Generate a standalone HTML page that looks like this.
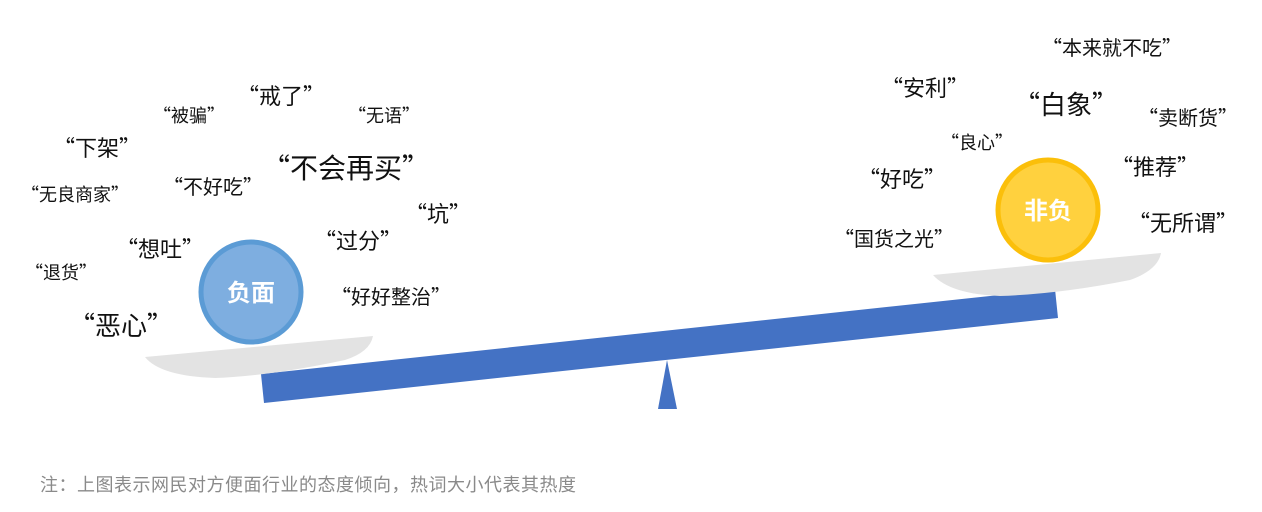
<!DOCTYPE html>
<html><head><meta charset="utf-8"><style>
html,body{margin:0;padding:0;background:#fff;}
#c{position:relative;width:1262px;height:512px;overflow:hidden;font-family:"Noto Sans CJK SC","Liberation Sans",sans-serif;color:#111;}
.t{position:absolute;transform:translate(-50%,-50%);white-space:nowrap;line-height:1;}
svg{position:absolute;left:0;top:0;}
.note{position:absolute;left:40px;top:474px;font-size:18px;letter-spacing:0.5px;color:#8a8a8a;white-space:nowrap;line-height:20px;}
</style></head><body><div id="c">
<svg width="1262" height="512">
<polygon points="261,374 1055,289 1058,318 264,403" fill="#4472c4"/>
<polygon points="667,360 658,409 677,409" fill="#4472c4"/>
<path d="M145,357 L373,336 Q370,352 345,360 Q270,376 215,378 Q160,376 145,357 Z" fill="#e3e3e3"/>
<path d="M933,275 L1161,253 Q1158,270 1130,280 Q1060,294 1000,296 Q950,294 933,275 Z" fill="#e3e3e3"/>
<circle cx="251" cy="292" r="50" fill="#7eaee0" stroke="#5b9bd5" stroke-width="5"/>
<circle cx="1048" cy="210" r="50" fill="#ffd13e" stroke="#fbbf0a" stroke-width="5"/>
<text x="251" y="301" font-size="24" font-weight="bold" fill="#fff" text-anchor="middle" font-family="Noto Sans CJK SC,sans-serif">负面</text>
<text x="1048" y="219" font-size="24" font-weight="bold" fill="#fff" text-anchor="middle" font-family="Noto Sans CJK SC,sans-serif">非负</text>
</svg>
<div class="t" style="left:1112px;top:47px;font-size:20px">“本来就不吃”</div>
<div class="t" style="left:925px;top:87px;font-size:22px">“安利”</div>
<div class="t" style="left:1066px;top:104px;font-size:26px">“白象”</div>
<div class="t" style="left:1188px;top:117px;font-size:20px">“卖断货”</div>
<div class="t" style="left:977px;top:142px;font-size:18px">“良心”</div>
<div class="t" style="left:1155px;top:166px;font-size:22px">“推荐”</div>
<div class="t" style="left:902px;top:178px;font-size:22px">“好吃”</div>
<div class="t" style="left:1183px;top:222px;font-size:22px">“无所谓”</div>
<div class="t" style="left:894px;top:238px;font-size:20px">“国货之光”</div>
<div class="t" style="left:281px;top:95px;font-size:22px">“戒了”</div>
<div class="t" style="left:189px;top:115px;font-size:18px">“被骗”</div>
<div class="t" style="left:384px;top:115px;font-size:18px">“无语”</div>
<div class="t" style="left:97px;top:147px;font-size:22px">“下架”</div>
<div class="t" style="left:346px;top:167px;font-size:28px">“不会再买”</div>
<div class="t" style="left:213px;top:186px;font-size:20px">“不好吃”</div>
<div class="t" style="left:75px;top:194px;font-size:18px">“无良商家”</div>
<div class="t" style="left:438px;top:213px;font-size:22px">“坑”</div>
<div class="t" style="left:358px;top:240px;font-size:22px">“过分”</div>
<div class="t" style="left:160px;top:248px;font-size:22px">“想吐”</div>
<div class="t" style="left:61px;top:272px;font-size:18px">“退货”</div>
<div class="t" style="left:391px;top:296px;font-size:20px">“好好整治”</div>
<div class="t" style="left:121px;top:325px;font-size:26px">“恶心”</div>
<div class="note">注：上图表示网民对方便面行业的态度倾向，热词大小代表其热度</div>
</div></body></html>
